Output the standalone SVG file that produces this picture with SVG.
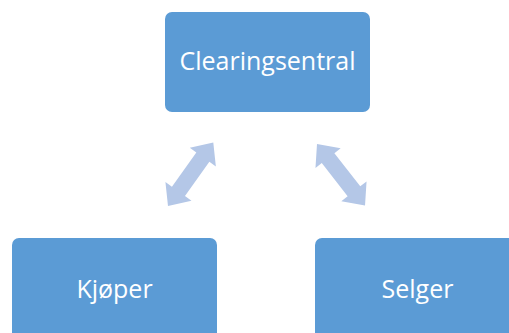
<svg xmlns="http://www.w3.org/2000/svg" width="509" height="333" viewBox="0 0 509 333">
<style>
.box{fill:#5B9BD5;}
.lbl{fill:#FFFFFF;font-family:"Open Sans","Liberation Sans",sans-serif;font-size:25px;text-anchor:middle;}
.arr{fill:#B4C7E7;}
</style>
<defs>
<polygon id="dbl" points="0,0 18,-16 18,-8 60,-8 60,-16 78,0 60,16 60,8 18,8 18,16"/>
</defs>
<rect width="509" height="333" fill="#FFFFFF"/>
<g id="connectors">
<use href="#dbl" class="arr" transform="translate(168,206) rotate(-54.5)"/>
<use href="#dbl" class="arr" transform="translate(317,144) rotate(52)"/>
</g>
<g id="clearingsentral">
<rect class="box" x="165" y="12" width="205" height="100" rx="7"/>
<text class="lbl" x="267.5" y="70">Clearingsentral</text>
</g>
<g id="kjoper">
<rect class="box" x="12" y="238" width="205" height="110" rx="7"/>
<text class="lbl" x="114.5" y="298">Kjøper</text>
</g>
<g id="selger">
<rect class="box" x="315" y="238" width="205" height="110" rx="7"/>
<text class="lbl" x="417.5" y="298">Selger</text>
</g>
</svg>
